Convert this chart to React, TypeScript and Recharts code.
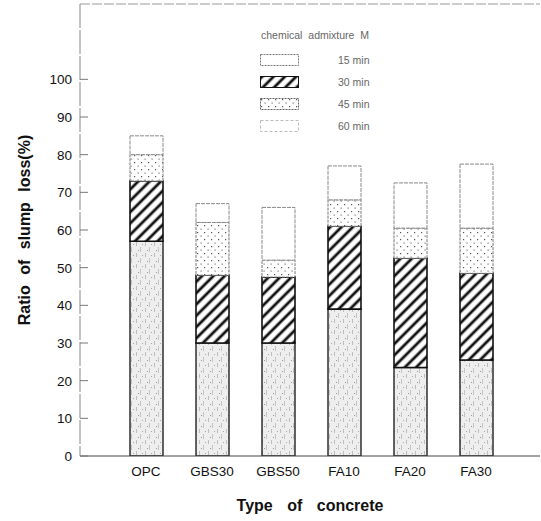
import { BarChart, Bar, XAxis, YAxis, ReferenceLine } from "recharts";

const categories = ["OPC", "GBS30", "GBS50", "FA10", "FA20", "FA30"];
// stacked from the bottom up
const min60 = [57, 30, 30, 39, 23.5, 25.5];
const min30 = [16, 18, 17.5, 22, 29, 23];
const min45 = [7, 14, 4.5, 7, 8, 12];
const min15 = [5, 5, 14, 9, 12, 17];
const yTicks = [0, 10, 20, 30, 40, 50, 60, 70, 80, 90, 100];

const data = categories.map((name, i) => ({
  name,
  m60: min60[i],
  m30: min30[i],
  m45: min45[i],
  m15: min15[i],
}));

const legendItems = [
  { label: "15 min", fill: "#fff", stroke: "#777", dash: "2 1" },
  { label: "30 min", fill: "url(#hatch)", stroke: "#111", dash: undefined },
  { label: "45 min", fill: "url(#dots)", stroke: "#666", dash: "2 1" },
  { label: "60 min", fill: "#fff", stroke: "#bbb", dash: "3 2" },
];

const FONT = "'Liberation Sans', Arial, sans-serif";

const YTick = ({ x, y, payload }: any) => (
  <g>
    <line x1={80} x2={88} y1={y} y2={y} stroke="#777" strokeWidth={1} />
    <text x={x} y={y + 5} textAnchor="end" fontSize={13.5} fill="#111" fontFamily={FONT}>
      {payload.value}
    </text>
  </g>
);

const LegendBox = () => (
  <div style={{ position: "absolute", left: 260, top: 29, fontFamily: FONT, color: "#666", fontSize: 10.5 }}>
    <div style={{ marginLeft: 1, marginBottom: 8, wordSpacing: 3 }}>chemical admixture M</div>
    {legendItems.map((it) => (
      <div key={it.label} style={{ display: "flex", alignItems: "center", height: 22 }}>
        <svg width={40} height={13}>
          <rect x={0.5} y={0.5} width={38} height={11} fill={it.fill} stroke={it.stroke} strokeDasharray={it.dash} />
        </svg>
        <span style={{ marginLeft: 38 }}>{it.label}</span>
      </div>
    ))}
  </div>
);

export default function App() {
  return (
    <div style={{ position: "absolute", left: 0, top: 0, width: 541, height: 521, background: "#fff" }}>
      <BarChart width={541} height={521} data={data} margin={{ top: 4, right: 1, left: 0, bottom: 0 }}>
        <defs>
          <pattern id="hatch" patternUnits="userSpaceOnUse" width={8} height={8} patternTransform="rotate(45)">
            <rect width={8} height={8} fill="#fff" />
            <line x1={2} y1={0} x2={2} y2={8} stroke="#111" strokeWidth={2.8} />
          </pattern>
          <pattern id="dots" patternUnits="userSpaceOnUse" width={7} height={7}>
            <rect width={7} height={7} fill="#fff" />
            <rect x={1} y={1} width={1.2} height={1.2} fill="#555" />
            <rect x={4.5} y={4.5} width={1.2} height={1.2} fill="#777" />
          </pattern>
          <pattern id="speckle" patternUnits="userSpaceOnUse" width={9} height={11}>
            <rect width={9} height={11} fill="#eeeeee" />
            <rect x={1} y={0} width={1} height={4} fill="#bdbdbd" />
            <rect x={5} y={5} width={1} height={5} fill="#c4c4c4" />
            <rect x={3} y={8} width={1} height={1} fill="#999" />
            <rect x={7} y={2} width={1} height={1} fill="#a8a8a8" />
          </pattern>
        </defs>
        <XAxis
          dataKey="name"
          height={65}
          padding={{ left: 33, right: 31 }}
          interval={0}
          tickLine={false}
          axisLine={{ stroke: "#444", strokeWidth: 1 }}
          tick={{ fontSize: 13.5, fill: "#111", fontFamily: FONT }}
          tickMargin={4}
          label={{
            value: "Type of concrete",
            position: "insideBottom",
            offset: 10,
            style: { fontSize: 16, fontWeight: "bold", fill: "#111", fontFamily: FONT, wordSpacing: 10 },
          }}
        />
        <YAxis
          width={80}
          domain={[0, 120]}
          ticks={yTicks}
          interval={0}
          tickLine={false}
          tickSize={0}
          tickMargin={8}
          allowDataOverflow
          axisLine={{ stroke: "#888", strokeWidth: 1, strokeDasharray: "24 2" }}
          tick={<YTick />}
          label={{
            value: "Ratio of slump loss(%)",
            angle: -90,
            position: "insideLeft",
            offset: 24,
            style: { fontSize: 16, fontWeight: "bold", fill: "#111", fontFamily: FONT, textAnchor: "middle", wordSpacing: 6 },
          }}
        />
        <ReferenceLine y={120} stroke="#999" strokeDasharray="10 2" />
        <Bar dataKey="m60" stackId="a" barSize={33} fill="url(#speckle)" stroke="#222" strokeWidth={1.4} isAnimationActive={false} />
        <Bar dataKey="m30" stackId="a" barSize={33} fill="url(#hatch)" stroke="#111" strokeWidth={1.6} isAnimationActive={false} />
        <Bar dataKey="m45" stackId="a" barSize={33} fill="url(#dots)" stroke="#777" strokeWidth={1} strokeDasharray="3 1" isAnimationActive={false} />
        <Bar dataKey="m15" stackId="a" barSize={33} fill="#fff" stroke="#888" strokeWidth={1} strokeDasharray="4 1" isAnimationActive={false} />
      </BarChart>
      <LegendBox />
    </div>
  );
}
